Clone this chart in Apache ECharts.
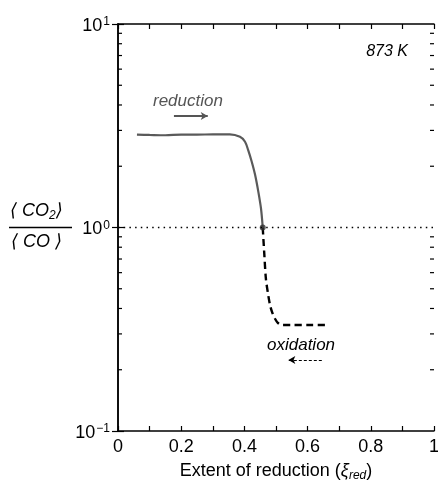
<!DOCTYPE html>
<html><head><meta charset="utf-8">
<script src="https://cdn.jsdelivr.net/npm/echarts@6/dist/echarts.min.js"></script>
<style>html,body{margin:0;padding:0;background:#fff}#c{width:438px;height:480px}</style>
</head><body><div id="c"></div><script>
// Reduction branch (solid grey)
const reductionX = [0.06, 0.10, 0.15, 0.20, 0.25, 0.30, 0.354, 0.386, 0.402, 0.412, 0.423, 0.434, 0.444, 0.4525, 0.458];
const reductionY = [2.86, 2.85, 2.84, 2.86, 2.86, 2.87, 2.87, 2.79, 2.64, 2.40, 2.11, 1.81, 1.50, 1.24, 1.00];
// Oxidation branch (dashed black)
const oxidationX = [0.458, 0.463, 0.468, 0.475, 0.482, 0.49, 0.497, 0.505, 0.518, 0.55, 0.60, 0.666];
const oxidationY = [1.00, 0.74, 0.56, 0.47, 0.41, 0.375, 0.356, 0.341, 0.332, 0.332, 0.332, 0.332];
const crossingPoint = [0.458, 1.0];
const referenceRatio = 1;
const xTickLabels = ['0', '0.2', '0.4', '0.6', '0.8', '1'];
const yMinorTicks = [0.2, 0.3, 0.4, 0.5, 0.6, 0.7, 0.8, 0.9, 2, 3, 4, 5, 6, 7, 8, 9];
const reductionArrow = [[0.177, 3.53], [0.284, 3.53]];
const oxidationArrow = [[0.645, 0.223], [0.539, 0.223]];

const FONT = 'Liberation Sans, Arial, DejaVu Sans, sans-serif';
const chart = echarts.init(document.getElementById('c'), null, {renderer: 'canvas'});

function xFmt(v) {
  const k = Math.round(v * 10);
  return k % 2 === 0 ? xTickLabels[k / 2] : '';
}
function yFmt(v) {
  const e = Math.round(Math.log10(v));
  return '{b|10}{s|' + (e < 0 ? '\u2212' + (-e) : e) + '}';
}
const axisLineStyle = {color: '#000', width: 1.5};

const option = {
  animation: false,
  backgroundColor: '#fff',
  grid: {left: 118, right: 4, top: 24, bottom: 49, outerBoundsMode: 'none'},
  xAxis: [{
    type: 'value', min: 0, max: 1, interval: 0.1, position: 'bottom',
    axisLine: {lineStyle: axisLineStyle},
    axisTick: {inside: true, length: 5, lineStyle: {color: '#000', width: 1.2}},
    splitLine: {show: false},
    axisLabel: {formatter: xFmt, fontSize: 18, color: '#000', fontFamily: FONT, margin: 7},
    name: '{a|Extent of reduction (}{i|\u03be}{sub|red}{a|)}',
    nameLocation: 'middle', nameGap: 29,
    nameTextStyle: {
      rich: {
        a: {fontSize: 18, color: '#000', fontFamily: FONT, lineHeight: 22},
        i: {fontSize: 18, color: '#000', fontFamily: FONT, fontStyle: 'italic', lineHeight: 22},
        sub: {fontSize: 12, color: '#000', fontFamily: FONT, fontStyle: 'italic', verticalAlign: 'bottom', lineHeight: 14, padding: [6, 0, 0, 0]}
      }
    }
  }, {
    type: 'value', min: 0, max: 1, interval: 0.1, position: 'top',
    axisLine: {lineStyle: axisLineStyle},
    axisTick: {inside: true, length: 5, lineStyle: {color: '#000', width: 1.2}},
    splitLine: {show: false},
    axisLabel: {show: false}
  }],
  yAxis: [{
    type: 'log', logBase: 10, min: 0.1, max: 10, position: 'left',
    axisLine: {lineStyle: axisLineStyle},
    axisTick: {inside: true, length: 6, lineStyle: {color: '#000', width: 1.2}},
    splitLine: {show: false},
    minorTick: {show: false},
    axisLabel: {
      formatter: yFmt, margin: 8, padding: [4, 0, 0, 0],
      rich: {
        b: {fontSize: 18, color: '#000', fontFamily: FONT, lineHeight: 20},
        s: {fontSize: 12, color: '#000', fontFamily: FONT, verticalAlign: 'top', lineHeight: 12, padding: [0, 0, 0, 1]}
      }
    }
  }, {
    type: 'log', logBase: 10, min: 0.1, max: 10, position: 'right',
    axisLine: {lineStyle: axisLineStyle},
    axisTick: {inside: true, length: 6, lineStyle: {color: '#000', width: 1.2}},
    splitLine: {show: false},
    axisLabel: {show: false}
  }],
  series: [
    {
      type: 'custom', xAxisIndex: 0, yAxisIndex: 0, silent: true, z: 5, clip: false,
      data: yMinorTicks.map(v => [0, v]),
      renderItem: function (params, api) {
        const v = api.value(1);
        const pl = api.coord([0, v]);
        const pr = api.coord([1, v]);
        const st = {stroke: '#000', lineWidth: 1.2};
        return {type: 'group', children: [
          {type: 'line', shape: {x1: pl[0], y1: pl[1], x2: pl[0] + 4, y2: pl[1]}, style: st},
          {type: 'line', shape: {x1: pr[0], y1: pr[1], x2: pr[0] - 4, y2: pr[1]}, style: st}
        ]};
      }
    },
    {
      type: 'line', xAxisIndex: 0, yAxisIndex: 0, showSymbol: false, smooth: 0.3, z: 3,
      data: reductionX.map((x, i) => [x, reductionY[i]]),
      lineStyle: {color: '#5a5a5a', width: 2.2},
      markLine: {
        silent: true, symbol: ['none', 'none'],
        label: {show: false},
        lineStyle: {color: '#000', width: 1.4, type: [1.5, 4.2]},
        data: [{yAxis: referenceRatio}]
      }
    },
    {
      type: 'line', xAxisIndex: 0, yAxisIndex: 0, showSymbol: false, smooth: 0.3, z: 3,
      data: oxidationX.map((x, i) => [x, oxidationY[i]]),
      lineStyle: {color: '#000', width: 2.4, type: [7, 4.5]}
    },
    {
      type: 'scatter', xAxisIndex: 0, yAxisIndex: 0, z: 4,
      data: [crossingPoint], symbolSize: 6, itemStyle: {color: '#333'}
    },
    {
      type: 'line', xAxisIndex: 0, yAxisIndex: 0, data: [], silent: true,
      markLine: {
        silent: true, symbol: ['none', 'arrow'], symbolSize: [6, 7],
        label: {show: false},
        data: [
          [{coord: reductionArrow[0], lineStyle: {color: '#555', width: 2, type: 'solid'}}, {coord: reductionArrow[1]}],
          [{coord: oxidationArrow[0], lineStyle: {color: '#000', width: 1, type: [3, 2]}}, {coord: oxidationArrow[1]}]
        ]
      }
    }
  ],
  graphic: [
    {type: 'text', left: 153, top: 93, style: {text: 'reduction', font: 'italic 17px ' + FONT, fill: '#555'}},
    {type: 'text', left: 267, top: 337, style: {text: 'oxidation', font: 'italic 17px ' + FONT, fill: '#000'}},
    {type: 'text', right: 30, top: 44, style: {text: '873 K', font: 'italic 16px ' + FONT, fill: '#000'}},
    {type: 'text', left: 10, top: 202, style: {
      text: '{t|\u27e8 CO}{sub|2}{t|\u27e9}',
      rich: {
        t: {font: 'italic 18px ' + FONT, fill: '#000', lineHeight: 22},
        sub: {font: 'italic 12px ' + FONT, fill: '#000', verticalAlign: 'bottom', lineHeight: 14, padding: [6, 0, 0, 0]}
      }
    }},
    {type: 'line', shape: {x1: 9, y1: 227.5, x2: 72, y2: 227.5}, style: {stroke: '#000', lineWidth: 1.6}},
    {type: 'text', left: 11, top: 233, style: {
      text: '{t|\u27e8 CO \u27e9}',
      rich: {t: {font: 'italic 18px ' + FONT, fill: '#000', lineHeight: 22}}
    }}
  ]
};
chart.setOption(option);
</script></body></html>
